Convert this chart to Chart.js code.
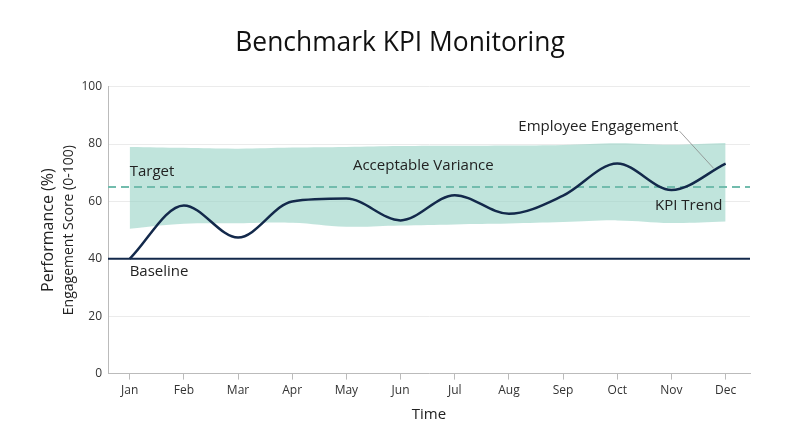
<!DOCTYPE html>
<html>
<head>
<meta charset="utf-8">
<script src="https://cdn.jsdelivr.net/npm/chart.js@4.4.1/dist/chart.umd.min.js"></script>
<style>
  html,body{margin:0;padding:0;background:#fff;}
  #wrap{width:800px;height:447px;}
</style>
</head>
<body>
<div id="wrap"><canvas id="c" width="800" height="447"></canvas></div>
<script>
// ---- data ----
const months = ["Jan","Feb","Mar","Apr","May","Jun","Jul","Aug","Sep","Oct","Nov","Dec"];
const kpiTrend = [40, 58.6, 47.4, 60, 61, 53.4, 62.2, 55.7, 62, 73.2, 64, 73.2];
const bandUpper = [79, 78.7, 78.4, 78.8, 79, 79.3, 79.4, 79.5, 79.7, 80.3, 79.8, 80.4];
const bandLower = [50.5, 52.2, 52.4, 52.6, 51.2, 51.6, 52.0, 52.3, 52.8, 53.4, 52.5, 53.0];
const targetValue = 65;
const baselineValue = 40;
const yTicks = [0, 20, 40, 60, 80, 100];

const X_MIN = -0.4, X_MAX = 11.45;
const pts = arr => arr.map((v, i) => ({x: i, y: v}));
const hline = v => [{x: X_MIN, y: v}, {x: X_MAX, y: v}];

const FONT = "'Open Sans', 'Noto Sans', sans-serif";

const labelPlugin = {
  id: 'labels',
  afterDatasetsDraw(chart) {
    const {ctx, scales: {x, y}, chartArea} = chart;
    const items = [
      {t: "Target", x: 0, y: 70.2, align: 'left'},
      {t: "Baseline", x: 0, y: 35.4, align: 'left'},
      {t: "Acceptable Variance", x: 5.42, y: 72.3, align: 'center'},
      {t: "Employee Engagement", x: 8.65, y: 86.1, align: 'center'},
      {t: "KPI Trend", x: 10.32, y: 58.6, align: 'center'}
    ];
    ctx.save();
    // leader line
    ctx.strokeStyle = '#888';
    ctx.lineWidth = 0.8;
    ctx.beginPath();
    ctx.moveTo(x.getPixelForValue(10.15), y.getPixelForValue(84.5));
    ctx.lineTo(x.getPixelForValue(10.78), y.getPixelForValue(71.5));
    ctx.stroke();
    ctx.fillStyle = '#222';
    ctx.font = "15px " + FONT;
    ctx.textBaseline = 'middle';
    items.forEach(it => {
      ctx.textAlign = it.align;
      ctx.fillText(it.t, x.getPixelForValue(it.x), y.getPixelForValue(it.y));
    });
    // y-axis title (two lines, different sizes)
    const cy = (chartArea.top + chartArea.bottom) / 2;
    ctx.translate(0, cy);
    ctx.rotate(-Math.PI / 2);
    ctx.textAlign = 'center';
    ctx.font = "16px " + FONT;
    ctx.fillText('Performance (%)', 0, 48);
    ctx.font = "14px " + FONT;
    ctx.fillText('Engagement Score (0-100)', 0, 69);
    ctx.restore();
  }
};

new Chart(document.getElementById('c'), {
  type: 'line',
  data: {
    datasets: [
      {label: 'KPI Trend', data: pts(kpiTrend), borderColor: '#13294b', borderWidth: 2.5,
       pointRadius: 0, cubicInterpolationMode: 'monotone', fill: false},
      {label: 'Target', data: hline(targetValue), borderColor: '#72bcad', borderWidth: 2,
       borderDash: [8, 5], pointRadius: 0, fill: false},
      {label: 'Baseline', data: hline(baselineValue), borderColor: '#13294b', borderWidth: 2,
       pointRadius: 0, fill: false},
      {label: 'Lower', data: pts(bandLower), borderWidth: 0, borderColor: 'rgba(0,0,0,0)',
       pointRadius: 0, tension: 0.4, fill: false},
      {label: 'Acceptable Variance', data: pts(bandUpper), borderWidth: 0, borderColor: 'rgba(0,0,0,0)',
       pointRadius: 0, tension: 0.4, fill: '-1', backgroundColor: 'rgba(150,210,196,0.6)'}
    ]
  },
  options: {
    responsive: false,
    animation: false,
    layout: {padding: {top: 18, left: 50, right: 50, bottom: 19}},
    plugins: {
      legend: {display: false},
      tooltip: {enabled: false},
      title: {display: true, text: 'Benchmark KPI Monitoring', color: '#111',
        font: {family: FONT, size: 26.4, weight: 'normal'}, padding: {top: 10, bottom: 27}}
    },
    scales: {
      x: {
        type: 'linear', min: X_MIN, max: X_MAX,
        afterBuildTicks: s => { s.ticks = months.map((m, i) => ({value: i})); },
        ticks: {callback: v => months[v], color: '#333', font: {family: FONT, size: 12}, padding: 4, maxRotation: 0, autoSkip: false},
        grid: {drawOnChartArea: false, drawTicks: true, tickLength: 6, color: '#bbb'},
        border: {color: '#bbb'},
        title: {display: true, text: 'Time', color: '#222', font: {family: FONT, size: 15}, padding: {top: 4}}
      },
      y: {
        min: 0, max: 100,
        afterBuildTicks: s => { s.ticks = yTicks.map(v => ({value: v})); },
        afterFit: s => { s.width = 58; },
        ticks: {color: '#333', font: {family: FONT, size: 12}, padding: 6},
        grid: {color: '#ebebeb', drawTicks: false},
        border: {color: '#bbb'}
      }
    }
  },
  plugins: [labelPlugin]
});
</script>
</body>
</html>
